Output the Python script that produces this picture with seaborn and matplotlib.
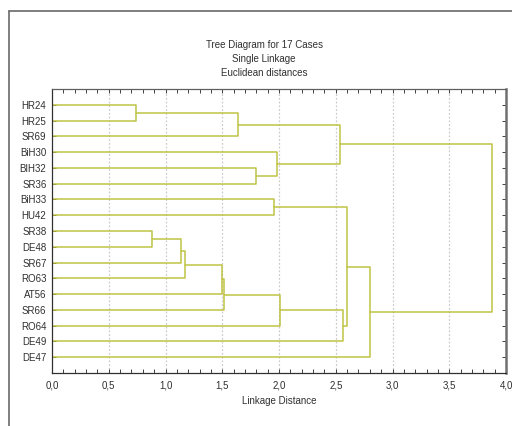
import numpy as np
import pandas as pd
import matplotlib
matplotlib.use("Agg")
import matplotlib.pyplot as plt
from matplotlib.lines import Line2D
from matplotlib.ticker import MultipleLocator, FuncFormatter
import seaborn as sns

# ---- data ----
leaf_labels = ["HR24", "HR25", "SR69", "BiH30", "BIH32", "SR36", "BiH33", "HU42",
               "SR38", "DE48", "SR67", "RO63", "AT56", "SR66", "RO64", "DE49", "DE47"]
# merges: new cluster ids start at 17, in the order listed
merge_left = [0, 8, 18, 19, 20, 21, 17, 4, 6, 3, 22, 23, 27, 25, 30, 28]
merge_right = [1, 9, 10, 11, 12, 13, 2, 5, 7, 24, 14, 26, 15, 29, 16, 31]
merge_height = [0.742, 0.883, 1.14, 1.171, 1.497, 1.514, 1.64, 1.798, 1.96, 1.978,
                2.013, 2.538, 2.562, 2.60, 2.80, 3.876]
x_ticks = [0.0, 0.5, 1.0, 1.5, 2.0, 2.5, 3.0, 3.5, 4.0]
title_lines = ["Tree Diagram for 17 Cases", "Single Linkage", "Euclidean distances"]
x_label = "Linkage Distance"

# ---- build link segments ----
n = len(leaf_labels)
pos = {i: float(i + 1) for i in range(n)}
hgt = {i: 0.0 for i in range(n)}
rows = []
for k, (a, b, h) in enumerate(zip(merge_left, merge_right, merge_height)):
    cid = n + k
    pts = [(hgt[a], pos[a]), (h, pos[a]), (h, pos[b]), (hgt[b], pos[b])]
    for j, (x, y) in enumerate(pts):
        rows.append({"link": k, "order": j, "x": x, "y": y})
    pos[cid] = (pos[a] + pos[b]) / 2.0
    hgt[cid] = h
df = pd.DataFrame(rows)

sns.set_style("white")
plt.rcParams['font.family'] = ['Liberation Sans', 'DejaVu Sans']
txt_color = "#303030"

fig = plt.figure(figsize=(5.12, 4.26), dpi=100)
ax = fig.add_axes([52 / 512, 1 - 373 / 426, (506 - 52) / 512, (373 - 89) / 426])

for t in x_ticks[1:-1]:
    ax.axvline(t, color="#cccccc", lw=0.9, ls=(0, (1.5, 1.5)), zorder=0)

sns.lineplot(data=df, x="x", y="y", units="link", estimator=None, sort=False,
             color="#c0c344", lw=1.1, ax=ax, legend=False)

ax.set_xlim(0, 4.0)
ax.set_ylim(18, 0)
ax.set_yticks(np.arange(1, n + 1))
ax.set_yticklabels(leaf_labels)
ax.xaxis.set_major_locator(MultipleLocator(0.5))
ax.xaxis.set_minor_locator(MultipleLocator(0.1))
ax.xaxis.set_major_formatter(FuncFormatter(lambda v, p: f"{v:.1f}".replace(".", ",")))
ax.tick_params(axis="x", which="both", direction="in", top=True, bottom=True,
               length=3, width=0.7, color="#404040", labelsize=7, labelcolor=txt_color, pad=5.5)
ax.tick_params(axis="y", which="both", direction="in", left=True, right=True,
               length=3, width=0.7, color="#404040", labelsize=7, labelcolor=txt_color, pad=4)
ax.set_xlabel(x_label, fontsize=7, color=txt_color, labelpad=3.5)
ax.set_ylabel("")

for side in ["left", "bottom", "top"]:
    ax.spines[side].set_color("#303030")
    ax.spines[side].set_linewidth(0.9)
ax.spines["top"].set_color("#606060")
ax.spines["right"].set_color("#707070")
ax.spines["right"].set_linewidth(1.8)

ys = [1 - 45 / 426, 1 - 59 / 426, 1 - 73 / 426]
for t, y in zip(title_lines, ys):
    fig.text(264 / 512, y, t, ha="center", va="center", fontsize=7, color=txt_color)

# outer frame
fig.add_artist(Line2D([9 / 512, 1.0], [1 - 11 / 426, 1 - 11 / 426],
                      transform=fig.transFigure, color="#6a6a6a", lw=1.2))
fig.add_artist(Line2D([9 / 512, 9 / 512], [1 - 11 / 426, 0.0],
                      transform=fig.transFigure, color="#6a6a6a", lw=1.2))

fig.savefig("out.png", dpi=100)
